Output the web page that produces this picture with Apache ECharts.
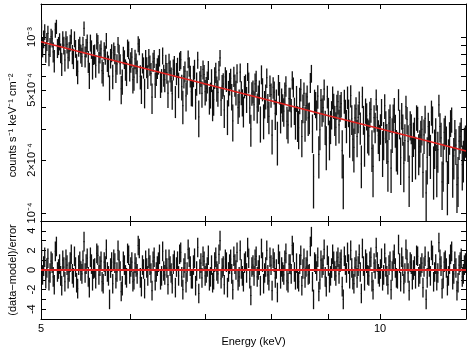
<!DOCTYPE html>
<html>
<head>
<meta charset="utf-8">
<title>Spectrum and residuals</title>
<script src="https://cdn.jsdelivr.net/npm/echarts@6/dist/echarts.min.js"></script>
<style>
  html, body { margin: 0; padding: 0; background: #fff; }
  #chart { width: 474px; height: 351px; }
</style>
</head>
<body>
<div id="chart"></div>
<script>
// energy range covered by the bins (keV), bins equal in log E
var energyMin = 5.0
var energyMax = 11.92

// unfolded spectrum, in units of 1e-4 counts s^-1 keV^-1 cm^-2
var flux = [
  11.39, 8.78, 9.75, 10.72, 8.24, 9.43, 10.49, 7.93, 8.78, 10.06, 9.79, 8.24, 7.36, 10.98, 11.46, 8.66, 8.95, 9.44, 8.14, 7.06,
  9.74, 8.98, 7.40, 9.75, 9.08, 7.62, 8.31, 9.29, 10.06, 8.01, 7.58, 9.75, 8.61, 6.99, 6.37, 8.71, 9.06, 8.05, 7.72, 9.05,
  11.18, 7.77, 8.69, 9.28, 7.28, 6.11, 9.29, 8.54, 6.76, 7.96, 8.03, 6.89, 9.49, 9.25, 7.21, 8.08, 8.56, 6.44, 6.22, 8.36,
  7.93, 9.56, 7.30, 6.88, 5.20, 7.59, 8.14, 6.00, 8.37, 7.95, 6.41, 7.04, 9.07, 8.10, 7.06, 5.08, 5.62, 7.89, 7.49, 6.55,
  6.25, 8.68, 8.46, 6.57, 7.23, 7.68, 5.73, 5.91, 7.51, 7.11, 6.41, 9.14, 8.82, 5.97, 5.10, 7.14, 6.73, 4.86, 7.51, 6.75,
  5.99, 7.62, 6.94, 6.20, 4.55, 7.23, 7.55, 5.39, 6.16, 6.67, 6.99, 7.67, 5.37, 5.70, 7.85, 6.09, 5.72, 7.07, 6.27, 4.80,
  7.11, 6.44, 5.79, 4.77, 6.55, 6.89, 4.36, 6.22, 6.73, 5.38, 7.29, 7.44, 5.23, 4.07, 5.97, 6.39, 4.63, 5.56, 7.51, 6.80,
  6.01, 4.89, 4.86, 6.02, 6.58, 4.23, 5.46, 7.42, 3.52, 5.56, 6.02, 4.78, 6.55, 6.12, 4.89, 5.11, 5.57, 6.50, 4.41, 4.71,
  5.71, 4.17, 4.41, 5.90, 6.31, 5.12, 4.85, 6.48, 7.61, 4.38, 5.26, 5.41, 3.85, 5.93, 5.67, 3.57, 4.83, 5.45, 5.82, 4.61,
  3.34, 5.99, 5.35, 4.86, 6.23, 3.97, 4.26, 6.31, 4.85, 4.29, 3.82, 5.24, 5.37, 4.45, 6.37, 5.53, 3.95, 3.00, 4.80, 4.92,
  4.12, 5.42, 5.65, 4.00, 4.53, 4.89, 3.27, 6.14, 5.07, 3.38, 4.19, 4.62, 5.88, 4.00, 3.54, 5.30, 4.70, 2.77, 5.18, 4.86,
  3.68, 4.31, 2.58, 5.36, 4.84, 3.54, 4.38, 4.01, 3.79, 4.82, 5.28, 3.32, 3.17, 4.46, 4.45, 3.75, 5.71, 5.21, 3.84, 3.29,
  4.51, 3.29, 3.05, 4.39, 5.04, 2.72, 3.97, 4.78, 3.28, 4.08, 4.57, 3.47, 3.52, 5.53, 6.22, 2.91, 1.61, 4.31, 4.16, 3.65,
  4.61, 2.15, 2.97, 4.36, 3.78, 3.97, 5.05, 3.12, 2.43, 4.60, 3.83, 2.67, 3.13, 3.65, 4.56, 4.09, 3.40, 3.07, 4.04, 4.29,
  3.17, 3.99, 4.18, 2.26, 1.60, 4.34, 3.72, 3.17, 4.56, 3.74, 2.73, 4.65, 3.43, 2.63, 2.36, 3.47, 3.90, 2.72, 3.49, 4.25,
  3.08, 1.90, 4.58, 3.42, 2.46, 3.84, 3.57, 2.81, 2.74, 3.66, 3.88, 2.33, 1.84, 3.48, 3.10, 4.42, 3.49, 2.76, 2.57, 3.04,
  3.78, 2.26, 2.64, 4.07, 3.14, 2.55, 1.96, 3.24, 3.49, 1.80, 2.82, 3.50, 3.87, 2.98, 2.34, 2.27, 4.43, 3.24, 2.06, 3.59,
  3.02, 1.92, 2.58, 4.02, 3.40, 2.55, 1.60, 3.18, 3.05, 2.09, 2.67, 2.89, 2.13, 3.51, 3.44, 2.22, 2.38, 2.77, 2.99, 1.70,
  2.78, 3.45, 1.30, 2.07, 3.10, 2.72, 2.17, 3.74, 3.43, 1.79, 2.38, 2.85, 1.83, 2.29, 4.11, 3.10, 2.67, 1.50, 1.90, 2.87,
  2.99, 2.52, 1.47, 2.04, 2.71, 3.27, 3.42, 1.78, 2.11, 2.82, 2.43, 1.45, 1.58, 2.56, 2.72, 2.92, 1.88, 2.03, 2.51, 2.60
]
var fluxErr = [
  1.12, 1.12, 1.12, 1.11, 1.11, 1.11, 1.10, 1.10, 1.09, 1.09, 1.08, 1.08, 1.08, 1.08, 1.07, 1.07, 1.06, 1.06, 1.05, 1.05,
  1.04, 1.04, 1.04, 1.04, 1.03, 1.03, 1.02, 1.02, 1.01, 1.01, 1.01, 1.01, 1.00, 1.00, 0.99, 0.99, 0.98, 0.98, 0.97, 0.97,
  1.06, 1.06, 1.05, 1.05, 1.04, 1.04, 1.03, 1.03, 1.03, 1.03, 1.02, 1.02, 1.01, 1.01, 1.00, 1.00, 1.00, 1.00, 0.99, 0.99,
  0.98, 0.98, 0.97, 0.97, 0.85, 0.97, 0.96, 0.96, 0.95, 0.95, 0.94, 0.94, 0.94, 0.94, 0.93, 0.93, 0.92, 0.92, 0.91, 0.91,
  0.99, 0.99, 0.98, 0.98, 0.97, 0.97, 0.96, 0.96, 0.96, 0.96, 0.95, 0.95, 0.94, 0.94, 0.94, 0.94, 0.93, 0.93, 0.92, 0.92,
  0.92, 0.92, 0.91, 0.91, 0.90, 0.90, 0.89, 0.89, 0.89, 0.89, 0.88, 0.88, 0.87, 0.87, 0.87, 0.87, 0.86, 0.86, 0.85, 0.85,
  0.92, 0.92, 0.91, 0.91, 0.90, 0.90, 0.90, 0.90, 0.89, 0.89, 0.88, 0.88, 0.88, 0.88, 0.87, 0.87, 0.86, 0.86, 0.86, 0.86,
  0.85, 0.85, 0.84, 0.84, 0.84, 0.84, 0.83, 0.83, 0.83, 0.83, 0.82, 0.82, 0.81, 0.81, 0.81, 0.81, 0.80, 0.80, 0.79, 0.79,
  0.85, 0.85, 0.84, 0.84, 0.84, 0.84, 0.83, 0.83, 0.82, 0.82, 0.82, 0.82, 0.81, 0.81, 0.80, 0.80, 0.80, 0.80, 0.79, 0.79,
  0.79, 0.79, 0.78, 0.78, 0.77, 0.77, 0.77, 0.77, 0.76, 0.76, 0.76, 0.76, 0.75, 0.75, 0.75, 0.75, 0.74, 0.62, 0.73, 0.73,
  0.78, 0.78, 0.78, 0.78, 0.77, 0.77, 0.76, 0.76, 0.76, 0.76, 0.75, 0.75, 0.75, 0.75, 0.74, 0.74, 0.74, 0.62, 0.73, 0.73,
  0.72, 0.72, 0.72, 0.72, 0.71, 0.71, 0.71, 0.71, 0.70, 0.70, 0.70, 0.70, 0.69, 0.69, 0.69, 0.69, 0.68, 0.68, 0.68, 0.68,
  0.76, 0.76, 0.75, 0.75, 0.74, 0.65, 0.74, 0.74, 0.74, 0.74, 0.73, 0.73, 0.72, 0.72, 0.72, 0.72, 0.55, 0.71, 0.71, 0.71,
  0.70, 0.58, 0.70, 0.70, 0.69, 0.69, 0.69, 0.69, 0.68, 0.68, 0.68, 0.68, 0.67, 0.67, 0.67, 0.67, 0.66, 0.66, 0.66, 0.66,
  0.69, 0.69, 0.69, 0.69, 0.55, 0.68, 0.68, 0.68, 0.67, 0.67, 0.67, 0.67, 0.66, 0.66, 0.66, 0.66, 0.65, 0.65, 0.65, 0.65,
  0.64, 0.52, 0.64, 0.64, 0.63, 0.63, 0.63, 0.63, 0.62, 0.62, 0.62, 0.62, 0.61, 0.61, 0.61, 0.61, 0.60, 0.60, 0.60, 0.60,
  0.66, 0.66, 0.65, 0.65, 0.65, 0.65, 0.64, 0.64, 0.64, 0.50, 0.63, 0.63, 0.63, 0.63, 0.62, 0.62, 0.62, 0.62, 0.62, 0.62,
  0.61, 0.61, 0.61, 0.61, 0.60, 0.60, 0.52, 0.60, 0.59, 0.59, 0.59, 0.59, 0.58, 0.58, 0.58, 0.58, 0.57, 0.57, 0.57, 0.48,
  0.62, 0.62, 0.45, 0.62, 0.61, 0.61, 0.61, 0.61, 0.60, 0.60, 0.60, 0.60, 0.60, 0.60, 0.59, 0.59, 0.59, 0.46, 0.58, 0.58,
  0.58, 0.58, 0.50, 0.58, 0.57, 0.57, 0.56, 0.56, 0.56, 0.56, 0.56, 0.45, 0.50, 0.56, 0.55, 0.55, 0.54, 0.54, 0.54, 0.54
]
// (data-model)/error, same bins
var resid = [
  1.8, -0.5, 0.4, 1.3, -0.9, 0.2, 1.2, -1.1, -0.3, 0.9, 0.7, -0.7, -1.5, 1.9, 2.4, -0.2, 0.1, 0.6, -0.6, -1.6,
  1.0, 0.3, -1.2, 1.1, 0.5, -0.9, -0.2, 0.8, 1.6, -0.4, -0.8, 1.4, 0.3, -1.3, -1.9, 0.5, 0.9, -0.1, -0.4, 1.0,
  2.9, -0.3, 0.6, 1.2, -0.7, -1.8, 1.3, 0.6, -1.1, 0.1, 0.2, -0.9, 1.7, 1.5, -0.5, 0.4, 0.9, -1.2, -1.4, 0.8,
  0.4, 2.1, -0.2, -0.6, -3.0, 0.2, 0.8, -1.4, 1.1, 0.7, -0.9, -0.2, 2.0, 1.0, -0.1, -2.2, -1.6, 0.9, 0.5, -0.5,
  -0.8, 1.7, 1.5, -0.4, 0.3, 0.8, -1.2, -1.0, 0.7, 0.3, -0.4, 2.5, 2.2, -0.8, -1.7, 0.5, 0.1, -1.9, 1.0, 0.2,
  -0.6, 1.2, 0.5, -0.3, -2.1, 0.9, 1.3, -1.1, -0.2, 0.4, 0.8, 1.6, -1.0, -0.6, 1.9, -0.1, -0.5, 1.1, 0.2, -1.5,
  1.1, 0.4, -0.3, -1.4, 0.6, 1.0, -1.8, 0.3, 0.9, -0.6, 1.6, 1.8, -0.7, -2.0, 0.2, 0.7, -1.3, -0.2, 2.1, 1.3,
  0.4, -0.9, -0.9, 0.5, 1.2, -1.6, -0.1, 2.3, -2.4, 0.1, 0.7, -0.8, 1.4, 0.9, -0.6, -0.3, 0.3, 1.5, -1.1, -0.7,
  0.5, -1.3, -1.0, 0.8, 1.3, -0.1, -0.4, 1.6, 3.0, -0.9, 0.2, 0.4, -1.5, 1.1, 0.8, -1.8, -0.2, 0.6, 1.1, -0.4,
  -2.0, 1.4, 0.6, 0.0, 1.8, -1.1, -0.7, 2.0, 0.1, -0.6, -1.2, 0.7, 0.9, -0.3, 2.3, 1.2, -0.9, -2.6, 0.3, 0.5,
  -0.6, 1.1, 1.4, -0.7, 0.0, 0.5, -1.6, 2.2, 0.8, -1.4, -0.3, 0.3, 2.0, -0.5, -1.1, 1.3, 0.5, -2.1, 1.2, 0.8,
  -0.8, 0.1, -2.3, 1.6, 0.9, -0.9, 0.3, -0.2, -0.5, 1.0, 1.7, -1.1, -1.3, 0.6, 0.6, -0.4, 2.5, 1.8, -0.2, -1.0,
  0.7, -0.9, -1.2, 0.6, 1.5, -1.6, 0.1, 1.2, -0.8, 0.3, 1.0, -0.5, -0.4, 2.4, 3.4, -1.2, -3.0, 0.8, 0.6, -0.1,
  1.3, -2.2, -1.0, 1.0, 0.2, 0.5, 2.1, -0.7, -1.7, 1.5, 0.4, -1.3, -0.6, 0.2, 1.6, 0.9, -0.1, -0.6, 0.9, 1.3,
  -0.4, 0.8, 1.1, -1.7, -3.0, 1.4, 0.5, -0.3, 1.8, 0.6, -0.9, 2.0, 0.2, -1.0, -1.4, 0.3, 1.0, -0.8, 0.4, 1.6,
  -0.2, -2.4, 2.2, 0.4, -1.1, 1.1, 0.7, -0.5, -0.6, 0.9, 1.3, -1.2, -2.0, 0.7, 0.1, 2.3, 0.8, -0.4, -0.7, 0.1,
  1.2, -1.1, -0.5, 1.7, 0.3, -0.6, -1.5, 0.5, 0.9, -2.0, -0.1, 1.0, 1.6, 0.2, -0.8, -0.9, 2.6, 0.7, -1.2, 1.3,
  0.4, -1.4, -0.3, 2.1, 1.1, -0.3, -2.1, 0.8, 0.6, -1.0, 0.0, 0.4, -0.9, 1.5, 1.4, -0.7, -0.4, 0.3, 0.7, -1.8,
  0.3, 1.4, -3.0, -0.8, 0.9, 0.3, -0.6, 2.0, 1.5, -1.2, -0.2, 0.6, -1.1, -0.3, 2.8, 1.1, 0.4, -1.9, -0.9, 0.8,
  1.0, 0.2, -1.6, -0.6, 0.6, 1.6, 1.9, -1.0, -0.4, 0.9, 0.2, -2.1, -1.3, 0.5, 0.8, 1.2, -0.7, -0.4, 0.5, 0.7
]

// fitted power law (1e-4 units)
var modelEnergy = [5, 6, 7, 8, 9, 10, 11, 11.92]
var modelFlux = [9.4, 6.96, 5.40, 4.34, 3.57, 3.01, 2.57, 2.25]

// axes
var fluxUnit = 1e-4
var fluxMin = 0.9e-4
var fluxMax = 1.54e-3
var xTickValues = [5, 6, 7, 8, 9, 10]
var xLabelValues = [5, 10]
var yTickValues = [1e-4, 2e-4, 3e-4, 4e-4, 5e-4, 6e-4, 7e-4, 8e-4, 9e-4, 1e-3]
var yLabelValues = [1e-4, 2e-4, 5e-4, 1e-3]
var yLabelText = ['10⁻⁴', '2×10⁻⁴', '5×10⁻⁴', '10⁻³']
var residTickValues = [-4, -3, -2, -1, 0, 1, 2, 3, 4]
var residLabelValues = [-4, -2, 0, 2, 4]

var lg = Math.log10
var red = '#e0201e'
var font = { fontFamily: 'Liberation Sans, Arial, sans-serif', fontSize: 11, color: '#000' }

// build the bins in log space (the axes are linear in log10)
var lxLo = lg(energyMin)
var lxStep = (lg(energyMax) - lxLo) / flux.length
var specData = []
var residData = []
for (var i = 0; i < flux.length; i++) {
  var a = lxLo + i * lxStep
  var b = a + lxStep
  var c = a + lxStep / 2
  var f = flux[i] * fluxUnit
  var e = fluxErr[i] * fluxUnit
  specData.push([c, a, b, lg(f), lg(f - e), lg(f + e)])
  residData.push([c, a, b, resid[i], resid[i] - 1, resid[i] + 1])
}
var modelData = modelEnergy.map(function (en, k) {
  return [lg(en), lg(modelFlux[k] * fluxUnit)]
})

function drawBin(params, api) {
  var l = api.coord([api.value(1), api.value(3)])
  var r = api.coord([api.value(2), api.value(3)])
  var t = api.coord([api.value(0), api.value(5)])
  var d = api.coord([api.value(0), api.value(4)])
  return {
    type: 'group',
    children: [
      { type: 'line', shape: { x1: l[0], y1: l[1], x2: r[0], y2: r[1] }, style: { stroke: '#111', lineWidth: 1.2 } },
      { type: 'line', shape: { x1: t[0], y1: t[1], x2: d[0], y2: d[1] }, style: { stroke: '#111', lineWidth: 1.3 } }
    ]
  }
}

function frameAxis(gridIndex, position, min, max, ticks, label) {
  return {
    type: 'value',
    gridIndex: gridIndex,
    position: position,
    min: min,
    max: max,
    axisLine: { show: true, onZero: false, lineStyle: { color: '#000', width: 1 } },
    axisTick: { show: true, inside: true, length: 5, customValues: ticks, lineStyle: { color: '#000', width: 1 } },
    axisLabel: label || { show: false },
    splitLine: { show: false }
  }
}

var xMin = lg(energyMin)
var xMax = lg(energyMax)
var xTicks = xTickValues.map(lg)
var yMin = lg(fluxMin)
var yMax = lg(fluxMax)
var yTicks = yTickValues.map(lg)

var bottomX = frameAxis(1, 'bottom', xMin, xMax, xTicks, Object.assign({
  show: true,
  margin: 4,
  customValues: xLabelValues.map(lg),
  formatter: function (v) { return String(Math.round(Math.pow(10, v))) }
}, font))
bottomX.name = 'Energy (keV)'
bottomX.nameLocation = 'middle'
bottomX.nameGap = 17
bottomX.nameTextStyle = font

var fluxY = frameAxis(0, 'left', yMin, yMax, yTicks, Object.assign({
  show: true,
  rotate: 90,
  margin: 4,
  customValues: yLabelValues.map(lg),
  formatter: function (v) {
    for (var k = 0; k < yLabelValues.length; k++) {
      if (Math.abs(lg(yLabelValues[k]) - v) < 1e-6) return yLabelText[k]
    }
    return ''
  }
}, font))
fluxY.name = 'counts s⁻¹ keV⁻¹ cm⁻²'
fluxY.nameLocation = 'middle'
fluxY.nameGap = 22
fluxY.nameTextStyle = Object.assign({ padding: [0, 26, 0, 0] }, font)

var residY = frameAxis(1, 'left', -5, 5, residTickValues, Object.assign({
  show: true,
  rotate: 90,
  margin: 4,
  customValues: residLabelValues
}, font))
residY.name = '(data−model)/error'
residY.nameLocation = 'middle'
residY.nameGap = 22
residY.nameTextStyle = font

var chart = echarts.init(document.getElementById('chart'), null, { renderer: 'canvas' })
chart.setOption({
  animation: false,
  backgroundColor: '#fff',
  grid: [
    { left: 41, right: 8, top: 4, height: 217, outerBoundsMode: 'none' },
    { left: 41, right: 8, top: 221, height: 98, outerBoundsMode: 'none' }
  ],
  xAxis: [
    frameAxis(0, 'bottom', xMin, xMax, xTicks),
    frameAxis(0, 'top', xMin, xMax, xTicks),
    bottomX,
    frameAxis(1, 'top', xMin, xMax, xTicks)
  ],
  yAxis: [
    fluxY,
    frameAxis(0, 'right', yMin, yMax, yTicks),
    residY,
    frameAxis(1, 'right', -5, 5, residTickValues)
  ],
  series: [
    {
      type: 'custom',
      xAxisIndex: 0,
      yAxisIndex: 0,
      data: specData,
      renderItem: drawBin,
      encode: { x: [0, 1, 2], y: [3, 4, 5] },
      clip: true,
      silent: true
    },
    {
      type: 'line',
      xAxisIndex: 0,
      yAxisIndex: 0,
      data: modelData,
      showSymbol: false,
      lineStyle: { color: red, width: 1.5 },
      z: 5,
      silent: true
    },
    {
      type: 'custom',
      xAxisIndex: 2,
      yAxisIndex: 2,
      data: residData,
      renderItem: drawBin,
      encode: { x: [0, 1, 2], y: [3, 4, 5] },
      clip: true,
      silent: true,
      markLine: {
        silent: true,
        symbol: 'none',
        label: { show: false },
        lineStyle: { color: red, width: 2, type: 'solid' },
        data: [{ yAxis: 0 }]
      }
    }
  ]
})
</script>
</body>
</html>
